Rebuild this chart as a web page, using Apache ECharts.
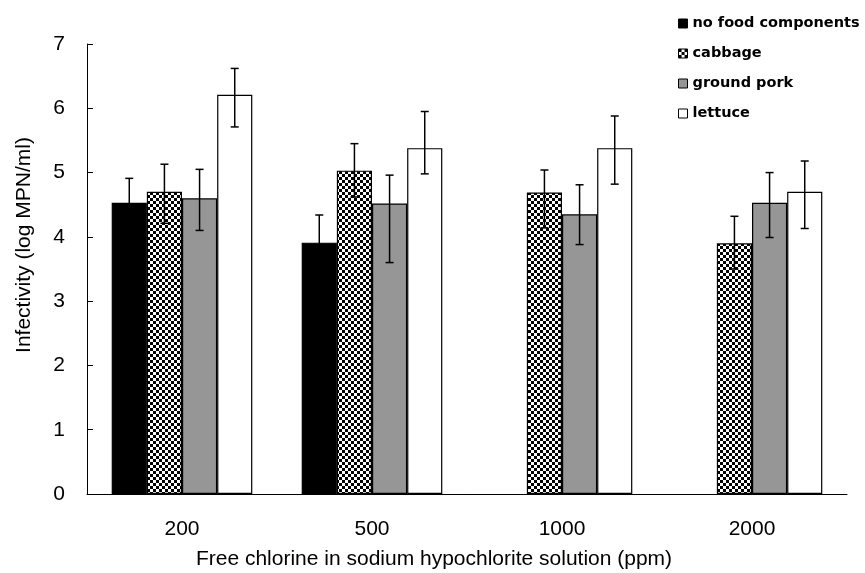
<!DOCTYPE html>
<html><head><meta charset="utf-8">
<script src="https://cdn.jsdelivr.net/npm/echarts@6/dist/echarts.min.js"></script>
<style>html,body{margin:0;padding:0;background:#fff}#c{width:865px;height:573px}</style>
</head><body><div id="c"></div>
<script>
var categories = ['200', '500', '1000', '2000'];
var seriesNames = ['no food components', 'cabbage', 'ground pork', 'lettuce'];
var noFood = [4.53, 3.91, null, null];
var cabbage = [4.70, 5.03, 4.69, 3.90];
var groundPork = [4.60, 4.52, 4.35, 4.53];
var lettuce = [6.21, 5.38, 5.38, 4.70];
// error bar [low, high]
var noFoodErr = [[4.15, 4.91], [3.48, 4.34], null, null];
var cabbageErr = [[4.21, 5.13], [4.62, 5.45], [4.14, 5.04], [3.50, 4.32]];
var groundPorkErr = [[4.10, 5.05], [3.60, 4.96], [3.88, 4.81], [3.99, 5.00]];
var lettuceErr = [[5.71, 6.62], [4.98, 5.95], [4.82, 5.88], [4.13, 5.18]];
var yTicks = [0, 1, 2, 3, 4, 5, 6, 7];

var pc = document.createElement('canvas');
pc.width = 6; pc.height = 6;
var g = pc.getContext('2d');
g.fillStyle = '#fff'; g.fillRect(0, 0, 6, 6);
g.fillStyle = '#000'; g.fillRect(0, 0, 3, 3); g.fillRect(3, 3, 3, 3);

var colors = ['#000000', {image: pc, repeat: 'repeat'}, '#969696', '#ffffff'];
var values = [noFood, cabbage, groundPork, lettuce];
var errs = [noFoodErr, cabbageErr, groundPorkErr, lettuceErr];
var gapRatio = 0.26;

var series = [];
values.forEach(function (v, i) {
  series.push({
    name: seriesNames[i], type: 'bar', data: v.map(function (x) { return x === null ? '-' : x; }),
    barCategoryGap: (gapRatio * 100) + '%', barGap: '0%',
    itemStyle: {color: colors[i], borderColor: '#000', borderWidth: 1.2},
    emphasis: {disabled: true}
  });
});
errs.forEach(function (e, i) {
  var d = [];
  e.forEach(function (r, k) { if (r) d.push([k, r[0], r[1]]); });
  series.push({
    type: 'custom', silent: true, z: 10,
    data: d,
    encode: {x: 0, y: [1, 2]},
    renderItem: function (params, api) {
      var k = api.value(0);
      var c = api.coord([k, api.value(1)]);
      var h = api.coord([k, api.value(2)]);
      var cw = api.size([1, 0])[0];
      var gw = cw * (1 - gapRatio);
      var bw = gw / 4;
      var x = c[0] - gw / 2 + bw * (i + 0.5);
      var cap = 4;
      var st = {stroke: '#000', lineWidth: 1.5};
      return {type: 'group', children: [
        {type: 'line', shape: {x1: x, y1: c[1], x2: x, y2: h[1]}, style: st},
        {type: 'line', shape: {x1: x - cap, y1: c[1], x2: x + cap, y2: c[1]}, style: st},
        {type: 'line', shape: {x1: x - cap, y1: h[1], x2: x + cap, y2: h[1]}, style: st}
      ]};
    }
  });
});

var chart = echarts.init(document.getElementById('c'));
chart.setOption({
  animation: false,
  backgroundColor: '#fff',
  grid: {left: 87, right: 18, top: 44, bottom: 79, containLabel: false, outerBoundsMode: 'none'},
  legend: {
    orient: 'vertical', left: 678, top: 16, itemWidth: 9, itemHeight: 9, itemGap: 15,
    icon: 'rect', selectedMode: false, padding: 0,
    data: seriesNames.map(function (n) { return {name: n, itemStyle: {borderColor: '#000', borderWidth: 1}}; }),
    textStyle: {fontFamily: 'DejaVu Sans', fontWeight: 'bold', fontSize: 14.5, lineHeight: 14, color: '#000'}
  },
  xAxis: {
    type: 'category', data: categories,
    name: 'Free chlorine in sodium hypochlorite solution (ppm)', nameLocation: 'middle', nameGap: 55,
    nameTextStyle: {fontFamily: 'Liberation Sans', fontSize: 21, color: '#000', padding: [0, 66, 0, 0]},
    axisLine: {lineStyle: {color: '#000', width: 1}},
    axisTick: {inside: true, length: 5, lineStyle: {color: '#000'}},
    axisLabel: {fontFamily: 'Liberation Sans', fontSize: 21, color: '#000', margin: 25}
  },
  yAxis: {
    type: 'value', min: 0, max: 7, interval: 1,
    name: 'Infectivity (log MPN/ml)', nameLocation: 'middle', nameGap: 52,
    nameTextStyle: {fontFamily: 'Liberation Sans', fontSize: 21, color: '#000', padding: [0, 0, 0, 48]},
    axisLine: {show: true, lineStyle: {color: '#000', width: 1}},
    axisTick: {show: true, inside: true, length: 6, lineStyle: {color: '#000'}},
    axisLabel: {fontFamily: 'Liberation Sans', fontSize: 21, color: '#000', margin: 22,
      formatter: function (v) { return yTicks.indexOf(v) >= 0 ? String(v) : ''; }},
    splitLine: {show: false}
  },
  series: series
});
</script></body></html>
